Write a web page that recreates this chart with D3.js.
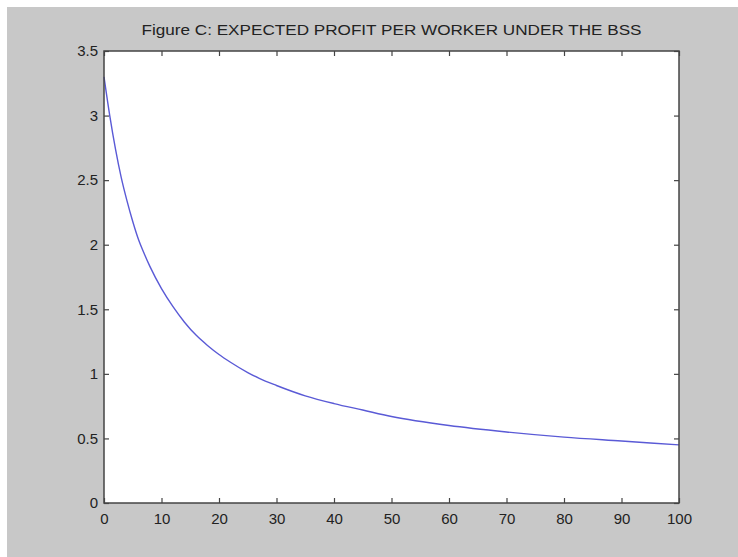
<!DOCTYPE html>
<html><head><meta charset="utf-8">
<script src="https://cdn.jsdelivr.net/npm/d3@7"></script>
<style>
html,body{margin:0;padding:0;background:#fff;}
svg{display:block;}
text{font-family:"Liberation Sans",Arial,sans-serif;fill:#222;}
</style></head>
<body>
<svg id="chart" width="738" height="557"></svg>
<script>
const title = "Figure C: EXPECTED PROFIT PER WORKER UNDER THE BSS";
const xValues = [0,1,2,3,4,5,6,7,8,10,12,14,16,18,20,22,25,27,30,35,40,45,50,60,70,80,90,100];
const yValues = [3.30,3.00,2.74,2.52,2.34,2.18,2.04,1.93,1.83,1.66,1.52,1.40,1.30,1.22,1.15,1.09,1.01,0.965,0.91,0.83,0.77,0.72,0.67,0.60,0.55,0.51,0.48,0.45];
const xTicks = [0,10,20,30,40,50,60,70,80,90,100];
const yTicks = [0,0.5,1,1.5,2,2.5,3,3.5];

const svg = d3.select("#chart");
const m = {left:104, right:679, top:51, bottom:503};
svg.append("rect").attr("x",7).attr("y",7).attr("width",731).attr("height",550).attr("fill","#c8c8c8");

const x = d3.scaleLinear().domain([0,100]).range([m.left,m.right]);
const y = d3.scaleLinear().domain([0,3.5]).range([m.bottom,m.top]);

svg.append("rect").attr("x",m.left).attr("y",m.top).attr("width",m.right-m.left).attr("height",m.bottom-m.top).attr("fill","#fff");

const tickLen = 5;
const g = svg.append("g");
const fmt = d => String(d);
const bx = g.append("g").attr("transform",`translate(0,${m.bottom})`).call(d3.axisBottom(x).tickValues(xTicks).tickFormat(fmt).tickSizeInner(-tickLen).tickSizeOuter(0).tickPadding(10));
const tx = g.append("g").attr("transform",`translate(0,${m.top})`).call(d3.axisTop(x).tickValues(xTicks).tickFormat("").tickSizeInner(-tickLen).tickSizeOuter(0));
const ly = g.append("g").attr("transform",`translate(${m.left},0)`).call(d3.axisLeft(y).tickValues(yTicks).tickFormat(fmt).tickSizeInner(-tickLen).tickSizeOuter(0).tickPadding(6));
const ry = g.append("g").attr("transform",`translate(${m.right},0)`).call(d3.axisRight(y).tickValues(yTicks).tickFormat("").tickSizeInner(-tickLen).tickSizeOuter(0));
[bx,tx,ly,ry].forEach(a=>{
  a.select(".domain").remove();
  a.selectAll(".tick line").attr("stroke","#444").attr("stroke-width",1.2);
  a.selectAll(".tick text").attr("font-size",15).attr("font-family","Liberation Sans Narrow, Liberation Sans, Arial, sans-serif").attr("fill","#333");
});

const line = d3.line().x((d,i)=>x(xValues[i])).y(d=>y(d)).curve(d3.curveMonotoneX);
svg.append("path").datum(yValues).attr("d",line).attr("fill","none").attr("stroke","#5a5ad6").attr("stroke-width",1.4);

svg.append("rect").attr("x",m.left).attr("y",m.top).attr("width",m.right-m.left).attr("height",m.bottom-m.top).attr("fill","none").attr("stroke","#444").attr("stroke-width",1.5);

svg.append("text").attr("x",(m.left+m.right)/2).attr("y",35).attr("text-anchor","middle")
  .attr("font-size",14).attr("fill","#333").attr("textLength",500).attr("lengthAdjust","spacingAndGlyphs").text(title);
</script>
</body></html>
